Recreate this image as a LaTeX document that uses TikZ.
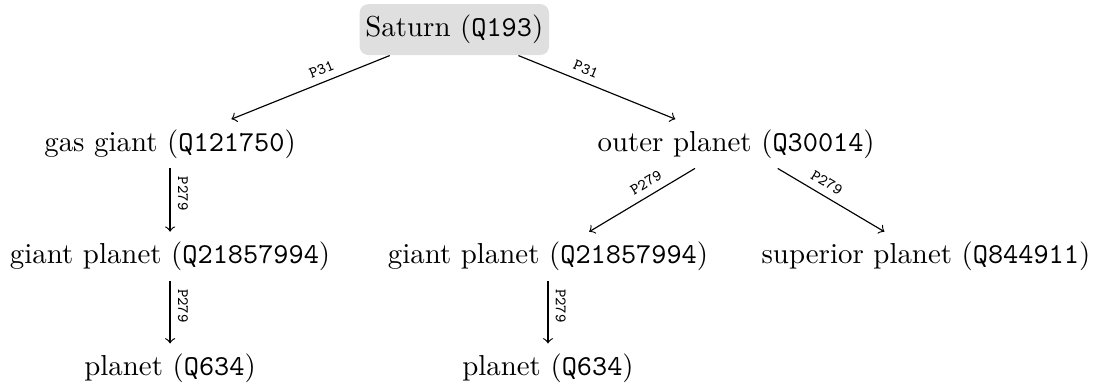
\documentclass[tikz,border=0pt]{standalone}
\usepackage{amsmath,amssymb}

\begin{document}
\begin{tikzpicture}[root/.style={fill=gray!25, rounded corners=3pt, inner xsep=2pt, inner ysep=3.8pt},
  rel/.style={->},
  lbl/.style={font=\ttfamily\fontsize{5.5}{6}\selectfont, inner sep=2.5pt, sloped, above, pos=0.4}]
\useasboundingbox (0,0) rectangle (13.34,-4.75);
\node[root] (saturn) at (5.53,-0.36) {Saturn (\texttt{Q193})};
\node (gasgiant) at (2.07,-1.75) {gas giant (\texttt{Q121750})};
\node (outer) at (8.96,-1.75) {outer planet (\texttt{Q30014})};
\node (giantA) at (2.07,-3.12) {giant planet (\texttt{Q21857994})};
\node (giantB) at (6.67,-3.12) {giant planet (\texttt{Q21857994})};
\node (superior) at (11.27,-3.12) {superior planet (\texttt{Q844911})};
\node (planetA) at (2.07,-4.48) {planet (\texttt{Q634})};
\node (planetB) at (6.67,-4.48) {planet (\texttt{Q634})};
\draw[rel] (saturn) -- node[lbl]{P31} (gasgiant);
\draw[rel] (saturn) -- node[lbl]{P31} (outer);
\draw[rel] (gasgiant) -- node[lbl]{P279} (giantA);
\draw[rel] (giantA) -- node[lbl]{P279} (planetA);
\draw[rel] (outer) -- node[lbl]{P279} (giantB);
\draw[rel] (outer) -- node[lbl]{P279} (superior);
\draw[rel] (giantB) -- node[lbl]{P279} (planetB);
\end{tikzpicture}
\end{document}
